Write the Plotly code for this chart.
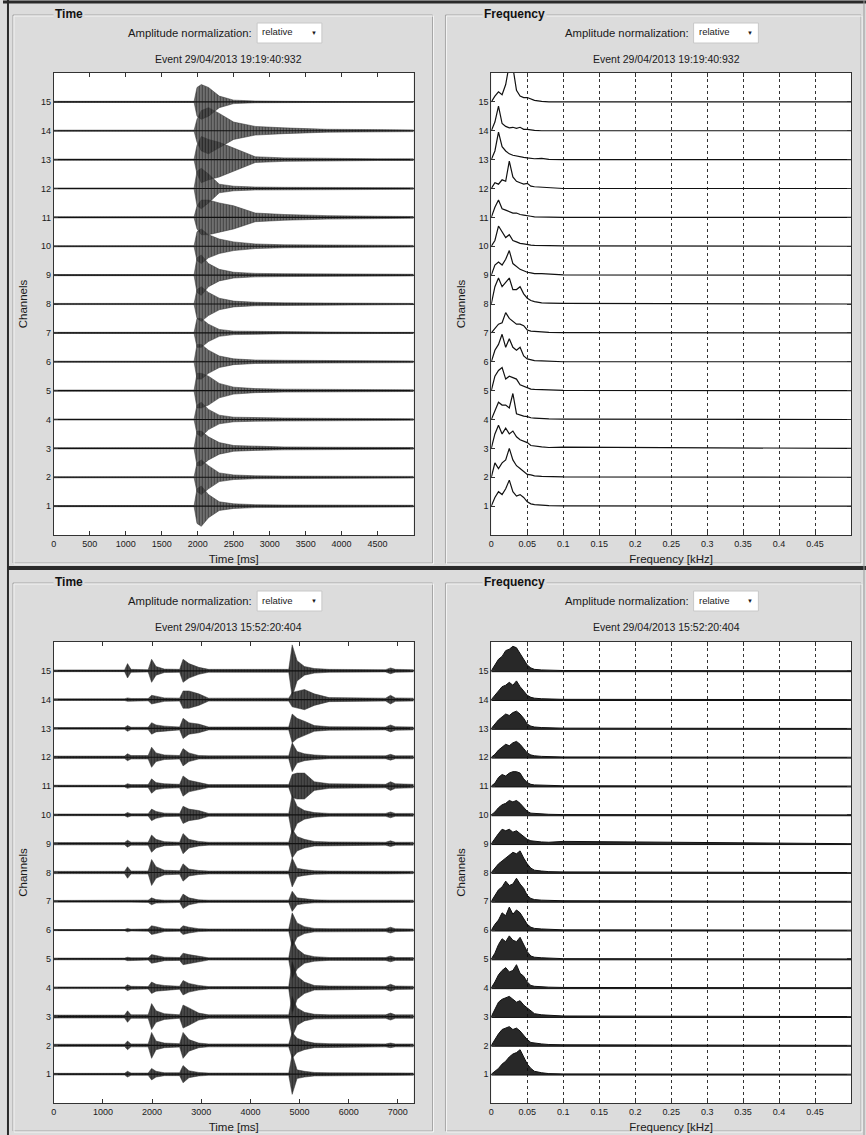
import plotly.graph_objects as go

W, H = 866, 1135
CHANNELS = list(range(1, 16))

# ---------------- DATA ----------------
EVENT_TOP = "Event 29/04/2013 19:19:40:932"
EVENT_BOTTOM = "Event 29/04/2013 15:52:20:404"

TIME_TICKS_TOP = [0, 500, 1000, 1500, 2000, 2500, 3000, 3500, 4000, 4500]
TIME_TICKS_BOTTOM = [0, 1000, 2000, 3000, 4000, 5000, 6000, 7000]
FREQ_TICKS = [0, 0.05, 0.1, 0.15, 0.2, 0.25, 0.3, 0.35, 0.4, 0.45]
FREQ_TICKTEXT = ["0", "0.05", "0.1", "0.15", "0.2", "0.25", "0.3", "0.35", "0.4", "0.45"]

# Top event: waveform envelope (half amplitude, channel units) at key times [ms], channel 1..15
T1_TIMES = [0, 1950, 1990, 2050, 2150, 2300, 2500, 2800, 3200, 3800, 4500, 5000]
T1_ENV = [
    [0.02, 0.02, 0.6, 0.7, 0.4, 0.15, 0.08, 0.05, 0.04, 0.03, 0.03, 0.03],   # 1
    [0.02, 0.02, 0.5, 0.6, 0.4, 0.15, 0.08, 0.05, 0.04, 0.03, 0.03, 0.03],   # 2
    [0.02, 0.02, 0.6, 0.6, 0.4, 0.2, 0.1, 0.07, 0.05, 0.04, 0.03, 0.03],     # 3
    [0.02, 0.02, 0.5, 0.6, 0.35, 0.15, 0.08, 0.06, 0.05, 0.04, 0.03, 0.03],  # 4
    [0.02, 0.02, 0.6, 0.6, 0.5, 0.25, 0.12, 0.07, 0.05, 0.04, 0.03, 0.03],   # 5
    [0.02, 0.02, 0.6, 0.6, 0.4, 0.2, 0.1, 0.06, 0.05, 0.04, 0.03, 0.03],     # 6
    [0.02, 0.02, 0.5, 0.5, 0.3, 0.12, 0.06, 0.05, 0.03, 0.03, 0.02, 0.02],   # 7
    [0.02, 0.02, 0.5, 0.6, 0.4, 0.2, 0.1, 0.06, 0.04, 0.03, 0.03, 0.02],     # 8
    [0.02, 0.02, 0.6, 0.7, 0.4, 0.2, 0.1, 0.06, 0.05, 0.04, 0.03, 0.03],     # 9
    [0.02, 0.02, 0.5, 0.6, 0.4, 0.25, 0.15, 0.08, 0.05, 0.04, 0.03, 0.03],   # 10
    [0.02, 0.02, 0.4, 0.6, 0.6, 0.5, 0.4, 0.15, 0.1, 0.06, 0.04, 0.03],      # 11
    [0.02, 0.02, 0.6, 0.7, 0.5, 0.15, 0.08, 0.05, 0.04, 0.03, 0.03, 0.03],   # 12
    [0.02, 0.02, 0.5, 0.8, 0.7, 0.6, 0.4, 0.1, 0.06, 0.04, 0.03, 0.03],      # 13
    [0.02, 0.02, 0.4, 0.7, 0.8, 0.6, 0.3, 0.15, 0.1, 0.05, 0.04, 0.03],      # 14
    [0.02, 0.02, 0.5, 0.6, 0.5, 0.2, 0.06, 0.03, 0.02, 0.01, 0.01, 0.01],    # 15
]

# Bottom event: waveform envelope at key times [ms]
T2_TIMES = [0, 1440, 1500, 1570, 1920, 1990, 2080, 2250, 2560, 2630, 2750, 2950,
            3150, 4780, 4850, 4950, 5100, 5300, 5600, 6750, 6850, 6950, 7320]
T2_ENV = [
    [0.03, 0.03, 0.1, 0.04, 0.04, 0.2, 0.1, 0.05, 0.05, 0.3, 0.12, 0.06, 0.04, 0.04, 0.7, 0.15, 0.1, 0.06, 0.05, 0.04, 0.06, 0.04, 0.04],   # 1
    [0.04, 0.04, 0.15, 0.05, 0.05, 0.45, 0.15, 0.08, 0.06, 0.45, 0.2, 0.08, 0.05, 0.05, 0.45, 0.25, 0.15, 0.08, 0.06, 0.05, 0.08, 0.05, 0.05],  # 2
    [0.05, 0.05, 0.2, 0.06, 0.06, 0.45, 0.2, 0.1, 0.06, 0.4, 0.3, 0.12, 0.06, 0.06, 0.7, 0.3, 0.15, 0.08, 0.06, 0.06, 0.12, 0.06, 0.06],  # 3
    [0.03, 0.03, 0.1, 0.05, 0.04, 0.2, 0.12, 0.08, 0.05, 0.25, 0.15, 0.08, 0.04, 0.04, 0.9, 0.4, 0.2, 0.08, 0.06, 0.05, 0.12, 0.06, 0.05],  # 4
    [0.03, 0.03, 0.06, 0.04, 0.04, 0.15, 0.12, 0.06, 0.05, 0.2, 0.15, 0.1, 0.04, 0.04, 0.7, 0.35, 0.15, 0.08, 0.05, 0.05, 0.1, 0.05, 0.05],  # 5
    [0.02, 0.02, 0.06, 0.03, 0.04, 0.15, 0.12, 0.05, 0.04, 0.15, 0.1, 0.05, 0.04, 0.04, 0.6, 0.25, 0.12, 0.06, 0.05, 0.05, 0.1, 0.05, 0.04],  # 6
    [0.03, 0.03, 0.04, 0.03, 0.04, 0.12, 0.06, 0.04, 0.04, 0.25, 0.12, 0.05, 0.04, 0.04, 0.35, 0.12, 0.08, 0.05, 0.04, 0.04, 0.06, 0.04, 0.04],  # 7
    [0.04, 0.04, 0.2, 0.05, 0.05, 0.45, 0.2, 0.08, 0.06, 0.3, 0.12, 0.07, 0.05, 0.05, 0.5, 0.15, 0.1, 0.06, 0.05, 0.05, 0.06, 0.05, 0.04],  # 8
    [0.04, 0.04, 0.12, 0.05, 0.05, 0.3, 0.15, 0.07, 0.05, 0.35, 0.15, 0.08, 0.05, 0.05, 0.5, 0.25, 0.15, 0.08, 0.06, 0.05, 0.1, 0.05, 0.05],  # 9
    [0.03, 0.03, 0.08, 0.04, 0.04, 0.2, 0.12, 0.06, 0.05, 0.3, 0.2, 0.15, 0.05, 0.05, 0.7, 0.3, 0.15, 0.08, 0.05, 0.05, 0.1, 0.05, 0.05],  # 10
    [0.03, 0.03, 0.08, 0.05, 0.05, 0.25, 0.12, 0.08, 0.06, 0.35, 0.2, 0.12, 0.05, 0.05, 0.4, 0.45, 0.45, 0.15, 0.08, 0.06, 0.15, 0.08, 0.06],  # 11
    [0.04, 0.04, 0.12, 0.06, 0.06, 0.35, 0.15, 0.08, 0.06, 0.3, 0.15, 0.06, 0.05, 0.05, 0.5, 0.2, 0.12, 0.08, 0.05, 0.05, 0.1, 0.05, 0.05],  # 12
    [0.03, 0.03, 0.1, 0.04, 0.04, 0.2, 0.12, 0.08, 0.05, 0.35, 0.2, 0.15, 0.05, 0.05, 0.5, 0.35, 0.25, 0.1, 0.06, 0.05, 0.12, 0.06, 0.05],  # 13
    [0.03, 0.03, 0.06, 0.04, 0.04, 0.15, 0.12, 0.06, 0.05, 0.3, 0.3, 0.2, 0.05, 0.05, 0.25, 0.3, 0.35, 0.2, 0.07, 0.05, 0.15, 0.06, 0.05],  # 14
    [0.03, 0.03, 0.25, 0.05, 0.04, 0.4, 0.15, 0.06, 0.05, 0.4, 0.25, 0.12, 0.05, 0.05, 0.9, 0.35, 0.15, 0.08, 0.05, 0.04, 0.1, 0.05, 0.04],  # 15
]

# Spectra (relative amplitude above channel baseline) at frequencies [kHz]
FREQS = [0, 0.005, 0.01, 0.015, 0.02, 0.025, 0.03, 0.035, 0.04, 0.045, 0.05, 0.055, 0.06, 0.07, 0.08, 0.1, 0.5]
S1 = [
    [0, 0.3, 0.5, 0.4, 0.6, 0.9, 0.5, 0.35, 0.4, 0.3, 0.15, 0.08, 0.05, 0.03, 0.02, 0.01, 0],     # 1
    [0, 0.5, 0.3, 0.5, 0.6, 1.0, 0.6, 0.4, 0.3, 0.2, 0.1, 0.08, 0.05, 0.03, 0.02, 0.01, 0],      # 2
    [0, 0.5, 0.8, 0.5, 0.7, 0.5, 0.6, 0.4, 0.3, 0.25, 0.2, 0.1, 0.08, 0.05, 0.03, 0.04, 0],      # 3
    [0, 0.3, 0.6, 0.5, 0.5, 0.4, 0.9, 0.2, 0.15, 0.12, 0.1, 0.06, 0.05, 0.03, 0.02, 0.01, 0],    # 4
    [0, 0.5, 0.7, 0.8, 0.4, 0.5, 0.45, 0.4, 0.2, 0.15, 0.1, 0.05, 0.04, 0.03, 0.02, 0.01, 0],    # 5
    [0, 0.4, 0.6, 0.95, 0.5, 0.8, 0.5, 0.4, 0.5, 0.2, 0.1, 0.06, 0.04, 0.03, 0.02, 0, 0],        # 6
    [0, 0.15, 0.3, 0.35, 0.7, 0.5, 0.4, 0.3, 0.3, 0.25, 0.1, 0.06, 0.05, 0.03, 0.02, 0.01, 0],   # 7
    [0, 0.6, 0.9, 0.6, 0.75, 0.9, 0.5, 0.5, 0.6, 0.35, 0.2, 0.12, 0.08, 0.04, 0.03, 0.02, 0],    # 8
    [0, 0.35, 0.45, 0.35, 0.55, 0.85, 0.4, 0.3, 0.2, 0.15, 0.1, 0.08, 0.05, 0.05, 0.03, 0.01, 0],# 9
    [0, 0.2, 0.7, 0.5, 0.3, 0.4, 0.2, 0.15, 0.1, 0.08, 0.05, 0.04, 0.03, 0.03, 0.02, 0.01, 0],   # 10
    [0, 0.35, 0.6, 0.3, 0.25, 0.2, 0.15, 0.15, 0.1, 0.08, 0.05, 0.04, 0.02, 0.01, 0, 0, 0],      # 11
    [0, 0.2, 0.15, 0.3, 0.25, 0.95, 0.4, 0.25, 0.2, 0.15, 0.18, 0.08, 0.06, 0.05, 0.03, 0, 0],   # 12
    [0, 0.3, 0.95, 0.45, 0.3, 0.2, 0.15, 0.12, 0.1, 0.08, 0.06, 0.05, 0.03, 0.04, 0.01, 0, 0],   # 13
    [0, 0.3, 0.85, 0.25, 0.15, 0.1, 0.12, 0.08, 0.12, 0.05, 0.05, 0.02, 0.01, 0, 0, 0, 0],       # 14
    [0, 0.2, 0.35, 0.25, 0.6, 1.3, 1.2, 0.4, 0.2, 0.15, 0.15, 0.1, 0.05, 0.02, 0, 0, 0],         # 15
]
S2 = [
    [0, 0.1, 0.2, 0.35, 0.45, 0.6, 0.7, 0.75, 0.85, 0.6, 0.35, 0.2, 0.1, 0.05, 0.02, 0.01, 0],   # 1
    [0, 0.2, 0.4, 0.55, 0.6, 0.65, 0.55, 0.6, 0.5, 0.35, 0.2, 0.1, 0.08, 0.05, 0.03, 0.02, 0],   # 2
    [0, 0.25, 0.5, 0.6, 0.65, 0.7, 0.6, 0.5, 0.55, 0.4, 0.3, 0.2, 0.1, 0.06, 0.04, 0.02, 0],     # 3
    [0, 0.2, 0.45, 0.6, 0.7, 0.55, 0.6, 0.8, 0.5, 0.4, 0.2, 0.08, 0.05, 0.03, 0.02, 0.01, 0],    # 4
    [0, 0.2, 0.5, 0.7, 0.6, 0.8, 0.65, 0.6, 0.75, 0.5, 0.25, 0.1, 0.06, 0.04, 0.03, 0.01, 0],    # 5
    [0, 0.2, 0.35, 0.6, 0.5, 0.8, 0.55, 0.7, 0.6, 0.4, 0.2, 0.1, 0.06, 0.04, 0.03, 0.01, 0],     # 6
    [0, 0.2, 0.4, 0.5, 0.7, 0.55, 0.6, 0.8, 0.6, 0.45, 0.2, 0.1, 0.06, 0.04, 0.03, 0.02, 0],     # 7
    [0, 0.15, 0.3, 0.4, 0.5, 0.6, 0.7, 0.65, 0.75, 0.5, 0.3, 0.15, 0.08, 0.05, 0.03, 0.02, 0],   # 8
    [0, 0.2, 0.35, 0.5, 0.45, 0.5, 0.4, 0.45, 0.35, 0.25, 0.15, 0.1, 0.08, 0.06, 0.05, 0.08, 0], # 9
    [0, 0.1, 0.25, 0.35, 0.4, 0.5, 0.45, 0.5, 0.4, 0.25, 0.12, 0.06, 0.05, 0.03, 0.02, 0.01, 0], # 10
    [0, 0.1, 0.3, 0.4, 0.35, 0.45, 0.5, 0.5, 0.45, 0.25, 0.12, 0.06, 0.04, 0.03, 0.02, 0.01, 0], # 11
    [0, 0.1, 0.25, 0.35, 0.45, 0.4, 0.5, 0.55, 0.45, 0.3, 0.15, 0.08, 0.05, 0.03, 0.02, 0.01, 0],# 12
    [0, 0.15, 0.3, 0.4, 0.5, 0.45, 0.55, 0.6, 0.5, 0.35, 0.15, 0.08, 0.05, 0.03, 0.02, 0.01, 0], # 13
    [0, 0.15, 0.3, 0.45, 0.5, 0.6, 0.5, 0.65, 0.45, 0.3, 0.15, 0.08, 0.05, 0.03, 0.02, 0.01, 0], # 14
    [0, 0.2, 0.4, 0.5, 0.7, 0.75, 0.85, 0.8, 0.6, 0.4, 0.2, 0.1, 0.05, 0.03, 0.02, 0.01, 0],     # 15
]

# ---------------- STYLE / LAYOUT HELPERS ----------------
FONT = "Liberation Sans, Arial, sans-serif"
BG = "#dcdcdc"
INK = "#1a1a1a"


def px(x):
    return x / W


def py(y):
    return 1 - y / H


fig = go.Figure()


def add_envelope(times, env, ch, axis_suffix, size, solidity, fill):
    xs = list(times) + list(times[::-1])
    ys = [ch + e for e in env] + [ch - e for e in env[::-1]]
    fig.add_trace(go.Scatter(
        x=xs, y=ys, mode="lines", fill="toself", fillcolor=fill,
        fillpattern=dict(shape="|", size=size, solidity=solidity,
                         fgcolor="#0a0a0a", fillmode="overlay"),
        line=dict(color="#333333", width=0.5),
        xaxis="x" + axis_suffix, yaxis="y" + axis_suffix,
        hoverinfo="skip", showlegend=False))
    # baseline of the trace
    fig.add_trace(go.Scatter(
        x=[times[0], times[-1]], y=[ch, ch], mode="lines",
        line=dict(color="#111111", width=1.2),
        xaxis="x" + axis_suffix, yaxis="y" + axis_suffix,
        hoverinfo="skip", showlegend=False))


for i, ch in enumerate(CHANNELS):
    add_envelope(T1_TIMES, T1_ENV[i], ch, "", 3, 0.5, "rgba(70,70,70,0.7)")
    add_envelope(T2_TIMES, T2_ENV[i], ch, "3", 3, 0.55, "rgba(40,40,40,0.8)")

for i, ch in enumerate(CHANNELS):
    fig.add_trace(go.Scatter(
        x=FREQS, y=[ch + v for v in S1[i]], mode="lines",
        line=dict(color="#111111", width=1.2),
        xaxis="x2", yaxis="y2", hoverinfo="skip", showlegend=False))
    xs = list(FREQS) + list(FREQS[::-1])
    ys = [ch + v for v in S2[i]] + [ch - 0.03 for _ in FREQS]
    fig.add_trace(go.Scatter(
        x=xs, y=ys, mode="lines", fill="toself", fillcolor="rgba(10,10,10,0.88)",
        line=dict(color="#111111", width=1.0),
        xaxis="x4", yaxis="y4", hoverinfo="skip", showlegend=False))

# axis domains (pixel -> paper)
XL = [px(51), px(412)]
XR = [px(490), px(851)]
YT = [py(535), py(73)]
YB = [py(1103), py(642)]

tickfont = dict(family=FONT, size=9, color=INK)
titlefont = dict(family=FONT, size=11.5, color=INK)


def xax(domain, anchor, rng, tickvals, ticktext, title, grid):
    d = dict(domain=domain, anchor=anchor, range=rng, tickvals=tickvals,
             showline=True, linecolor="#333", linewidth=1, mirror="ticks",
             ticks="inside", ticklen=4, tickcolor="#333", tickfont=tickfont,
             zeroline=False, fixedrange=True,
             title=dict(text=title, font=titlefont, standoff=7),
             showgrid=grid)
    if ticktext is not None:
        d["ticktext"] = ticktext
    if grid:
        d.update(gridcolor="#333", griddash="dot", gridwidth=1)
    return d


def yax(domain, anchor):
    return dict(domain=domain, anchor=anchor, range=[0, 16], tickvals=CHANNELS,
                showline=True, linecolor="#333", linewidth=1, mirror="ticks",
                ticks="inside", ticklen=4, tickcolor="#333", tickfont=tickfont,
                zeroline=False, showgrid=False, fixedrange=True,
                title=dict(text="Channels", font=titlefont, standoff=10))


fig.update_layout(
    width=W, height=H, margin=dict(l=0, r=0, t=0, b=0),
    paper_bgcolor=BG, plot_bgcolor="white", showlegend=False,
    font=dict(family=FONT, color=INK),
    xaxis=xax(XL, "y", [0, 5000], TIME_TICKS_TOP, None, "Time [ms]", False),
    yaxis=yax(YT, "x"),
    xaxis2=xax(XR, "y2", [0, 0.5], FREQ_TICKS, FREQ_TICKTEXT, "Frequency [kHz]", True),
    yaxis2=yax(YT, "x2"),
    xaxis3=xax(XL, "y3", [0, 7320], TIME_TICKS_BOTTOM, None, "Time [ms]", False),
    yaxis3=yax(YB, "x3"),
    xaxis4=xax(XR, "y4", [0, 0.5], FREQ_TICKS, FREQ_TICKTEXT, "Frequency [kHz]", True),
    yaxis4=yax(YB, "x4"),
)

shapes = []
annotations = []


def line(x0, y0, x1, y1, color, width):
    shapes.append(dict(type="line", xref="paper", yref="paper",
                       x0=px(x0), y0=py(y0), x1=px(x1), y1=py(y1),
                       line=dict(color=color, width=width), layer="below"))


def etched_box(x0, y0, x1, y1):
    shapes.append(dict(type="rect", xref="paper", yref="paper",
                       x0=px(x0), y0=py(y0), x1=px(x1), y1=py(y1),
                       line=dict(color="#a6a6a6", width=1), layer="below"))
    shapes.append(dict(type="rect", xref="paper", yref="paper",
                       x0=px(x0 + 1), y0=py(y0 + 1), x1=px(x1 + 1), y1=py(y1 + 1),
                       line=dict(color="#f4f4f4", width=1), layer="below"))


def text(x, y, s, size=10, anchor="center", bold=False, bg=None, color=INK):
    a = dict(xref="paper", yref="paper", x=px(x), y=py(y), text=("<b>%s</b>" % s if bold else s),
             showarrow=False, xanchor=anchor, yanchor="middle",
             font=dict(family=FONT, size=size, color=color))
    if bg:
        a.update(bgcolor=bg, borderpad=1)
    annotations.append(a)


for top, event in ((0, EVENT_TOP), (568, EVENT_BOTTOM)):
    box_top = top + 15
    box_bot = top + 563 if top == 0 else 1131
    etched_box(10, box_top, 431, box_bot)
    etched_box(444, box_top, 861, box_bot)
    text(50, box_top - 1, "Time", size=12, anchor="left", bold=True, bg=BG, color="#111")
    text(481, box_top - 1, "Frequency", size=12, anchor="left", bold=True, bg=BG, color="#111")
    # normalization controls
    for lbl_right, box_x0, box_x1 in ((252, 255, 320), (690, 693, 758)):
        text(lbl_right, top + 33, "Amplitude normalization:", size=11.3, anchor="right")
        shapes.append(dict(type="rect", xref="paper", yref="paper",
                           x0=px(box_x0), y0=py(top + 43), x1=px(box_x1), y1=py(top + 23),
                           fillcolor="white", line=dict(color="#c8c8c8", width=1)))
        text(box_x0 + 3, top + 32, "relative", size=9.5, anchor="left")
        text(box_x1 - 8, top + 33, "▼", size=6, anchor="center")
    text(226.5, top + 59, event, size=10.5)
    text(665.5, top + 59, event, size=10.5)

# outer dark frame lines
line(0, 2, 866, 2, "#2a2a2a", 3)
line(5, 0, 5, 1135, "#2a2a2a", 2)
line(5, 568, 866, 568, "#2a2a2a", 4)
line(864, 0, 864, 1135, "#9a9a9a", 1)

fig.update_layout(shapes=shapes, annotations=annotations)
fig.write_html("out.html", config={"displayModeBar": False},
               post_script="document.body.style.margin='0';document.body.style.overflow='hidden';")
